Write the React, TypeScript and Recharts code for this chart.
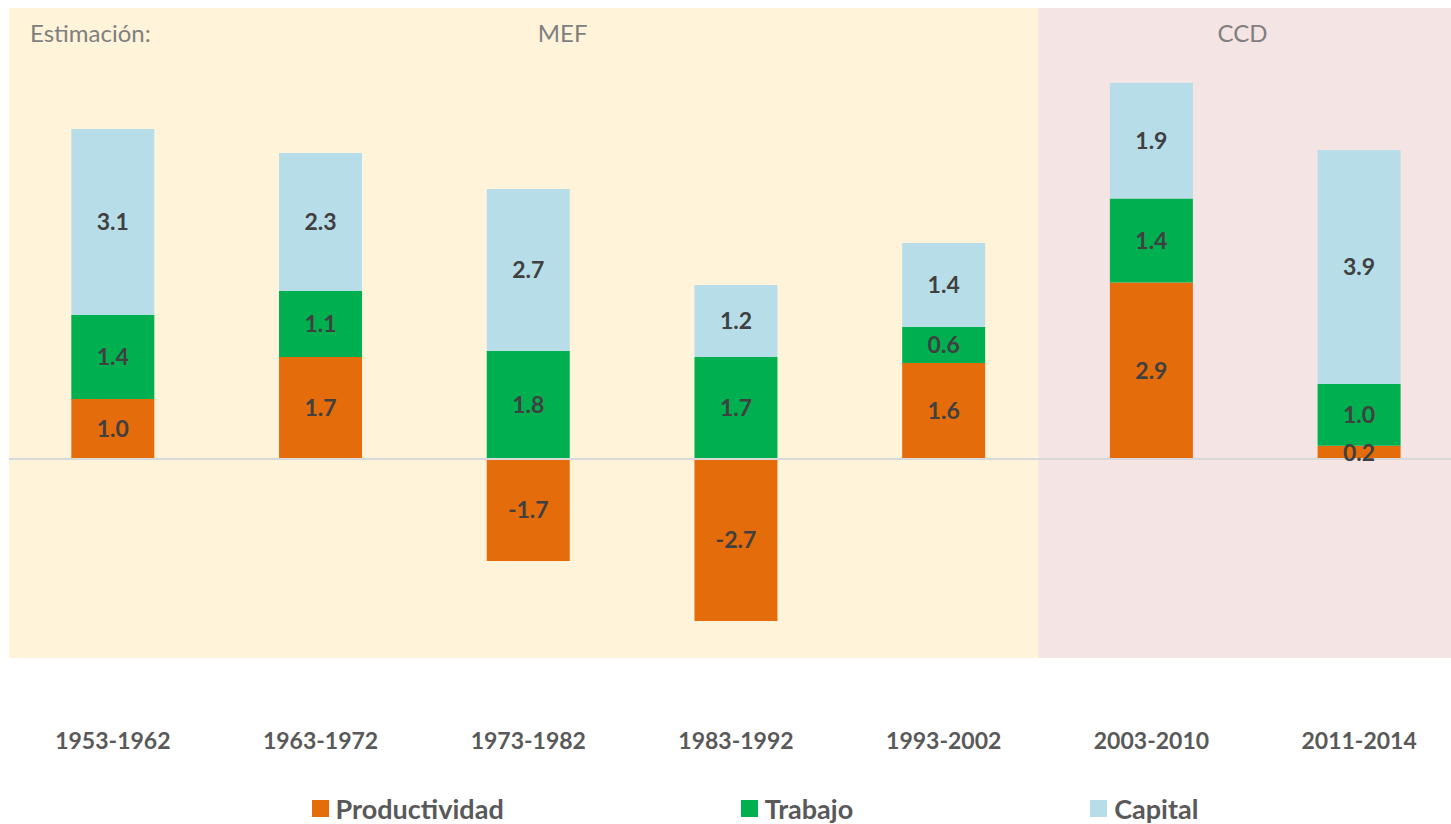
import React from 'react';
import { BarChart, Bar, XAxis, YAxis, ReferenceArea, ReferenceLine, LabelList, Legend } from 'recharts';

const periods = ['1953-1962', '1963-1972', '1973-1982', '1983-1992', '1993-2002', '2003-2010', '2011-2014'];
const productividad = [1.0, 1.7, -1.7, -2.7, 1.6, 2.94, 0.22];
const trabajo = [1.4, 1.1, 1.8, 1.7, 0.6, 1.4, 1.03];
const capital = [3.1, 2.3, 2.7, 1.2, 1.4, 1.93, 3.9];

// estimation periods shaded behind the bars (in category units on a hidden axis)
const estimaciones = [
  { name: 'MEF', from: 0, to: 4.955, fill: '#FFF4D9' },
  { name: 'CCD', from: 4.955, to: 7, fill: '#F5E4E4' },
];

const series = [
  { key: 'productividad', name: 'Productividad', color: '#E46C0A' },
  { key: 'trabajo', name: 'Trabajo', color: '#00B050' },
  { key: 'capital', name: 'Capital', color: '#B7DEE8' },
];

const data = periods.map((period, i) => ({
  period,
  pos: i + 0.5,
  productividad: productividad[i],
  trabajo: trabajo[i],
  capital: capital[i],
}));

const FONT = 'Lato, "Open Sans", sans-serif';

const areaLabel = (name: string) => (props: any) => {
  const vb = props.viewBox || {};
  const cx = name === 'MEF' ? vb.x + vb.width / 2 + 39 : vb.x + (1451 - vb.x) / 2 - 2;
  return (
    <g>
      {name === 'MEF' && (
        <text x={vb.x + 21} y={42} fill="#7F7F7F" fontSize={24} fontFamily={FONT}>
          Estimación:
        </text>
      )}
      <text x={cx} y={42} textAnchor="middle" fill="#7F7F7F" fontSize={24} fontFamily={FONT}>
        {name}
      </text>
    </g>
  );
};

const renderLegend = () => (
  <div
    style={{
      display: 'flex',
      justifyContent: 'center',
      alignItems: 'center',
      gap: 237,
      paddingLeft: 59,
      height: 36,
      fontFamily: FONT,
    }}
  >
    {series.map((s) => (
      <div key={s.key} style={{ display: 'flex', alignItems: 'center' }}>
        <span style={{ width: 17, height: 17, background: s.color, marginRight: 7, display: 'inline-block' }} />
        <span style={{ fontSize: 27, fontWeight: 700, color: '#595959' }}>{s.name}</span>
      </div>
    ))}
  </div>
);

export default function App() {
  return (
    <div style={{ position: 'fixed', left: 0, top: 0, width: 1451, height: 824, overflow: 'hidden', background: '#fff' }}>
      <BarChart
        width={1463}
        height={824}
        data={data}
        stackOffset="sign"
        barCategoryGap="30%"
        margin={{ top: 8, right: 0, bottom: 0, left: 9 }}
      >
        <XAxis
          dataKey="period"
          axisLine={false}
          tickLine={false}
          tickSize={0}
          tickMargin={75}
          height={166}
          interval={0}
          tick={{ fill: '#595959', fontSize: 23, fontWeight: 700, fontFamily: FONT }}
        />
        <XAxis xAxisId="bg" dataKey="pos" type="number" domain={[0, 7]} allowDataOverflow hide />
        <YAxis hide domain={[-3.317, 7.517]} allowDataOverflow />
        {estimaciones.map((e) => (
          <ReferenceArea
            key={e.name}
            xAxisId="bg"
            x1={e.from}
            x2={e.to}
            fill={e.fill}
            fillOpacity={1}
            stroke="none"
            ifOverflow="visible"
            label={areaLabel(e.name)}
          />
        ))}
        <ReferenceLine y={0} stroke="#D9D9D9" strokeWidth={2} />
        {series.map((s) => (
          <Bar key={s.key} dataKey={s.key} name={s.name} stackId="a" fill={s.color} isAnimationActive={false}>
            <LabelList
              dataKey={s.key}
              position="center"
              formatter={(v: any) => Number(v).toFixed(1)}
              fill="#404040"
              fontSize={23}
              fontWeight={700}
              fontFamily={FONT}
            />
          </Bar>
        ))}
        <Legend
          verticalAlign="middle"
          align="center"
          layout="horizontal"
          content={renderLegend}
          wrapperStyle={{ position: 'absolute', top: 790, left: 0, width: 1451 }}
        />
      </BarChart>
    </div>
  );
}
